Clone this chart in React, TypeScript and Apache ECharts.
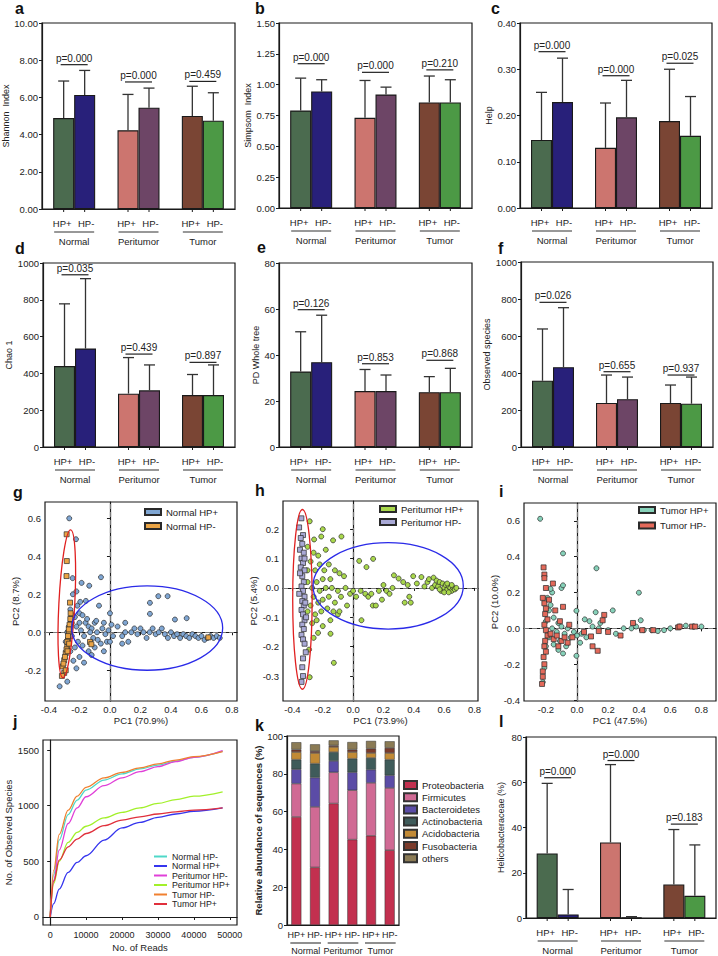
import React, { useEffect, useRef } from "react";
import * as echarts from "echarts";

const FONT = "'Liberation Sans', Arial, Helvetica, sans-serif";
const INK = "#1a1a1a";
const TXT = "#222";

// ---------- shared categories ----------
const groups = ["Normal", "Peritumor", "Tumor"];
const hpLabels = ["HP+", "HP-"];
const posColors = ["#4b6b4f", "#cc756f", "#7a4534"];
const negColors = ["#28207a", "#6d4566", "#4c9945"];

// ---------- a: Shannon ----------
const shannonPos = [4.89, 4.23, 5.0];
const shannonNeg = [6.13, 5.45, 4.75];
const shannonPosUp = [6.88, 6.16, 6.6];
const shannonNegUp = [7.45, 6.5, 6.25];
const shannonP = ["p=0.000", "p=0.000", "p=0.459"];
const shannonPLevel = [7.76, 6.83, 6.86];

// ---------- b: Simpsom ----------
const simpsonPos = [0.79, 0.731, 0.856];
const simpsonNeg = [0.945, 0.92, 0.856];
const simpsonPosUp = [1.053, 1.034, 1.07];
const simpsonNegUp = [1.04, 0.98, 1.04];
const simpsonP = ["p=0.000", "p=0.000", "p=0.210"];
const simpsonPLevel = [1.17, 1.1, 1.12];

// ---------- c: Help ----------
const helpPos = [0.147, 0.13, 0.188];
const helpNeg = [0.229, 0.196, 0.156];
const helpPosUp = [0.25, 0.227, 0.3];
const helpNegUp = [0.324, 0.276, 0.241];
const helpP = ["p=0.000", "p=0.000", "p=0.025"];
const helpPLevel = [0.338, 0.286, 0.313];

// ---------- d: Chao 1 ----------
const chaoPos = [440, 290, 282];
const chaoNeg = [535, 308, 282];
const chaoPosUp = [778, 486, 394];
const chaoNegUp = [915, 446, 446];
const chaoP = ["p=0.035", "p=0.439", "p=0.897"];
const chaoPLevel = [936, 505, 460];

// ---------- e: PD whole tree ----------
const pdPos = [32.8, 24.3, 23.8];
const pdNeg = [36.9, 24.3, 23.8];
const pdPosUp = [50.1, 33.7, 30.6];
const pdNegUp = [57.3, 31.3, 34.2];
const pdP = ["p=0.126", "p=0.853", "p=0.868"];
const pdPLevel = [59.7, 36.2, 37.7];

// ---------- f: Observed species ----------
const obsPos = [358, 238, 238];
const obsNeg = [431, 258, 234];
const obsPosUp = [638, 389, 335];
const obsNegUp = [753, 378, 378];
const obsP = ["p=0.026", "p=0.655", "p=0.937"];
const obsPLevel = [782, 407, 389];

// ---------- l: Helicobacteraceae ----------
const helicoPos = [28.5, 33.4, 14.8];
const helicoNeg = [1.6, 0.25, 9.8];
const helicoPosUp = [59.5, 67.8, 39.1];
const helicoNegUp = [12.6, 0.6, 32.3];
const helicoP = ["p=0.000", "p=0.000", "p=0.183"];
const helicoPLevel = [62, 69.6, 41.5];

// ---------- g: PCoA Normal ----------
const normalHPpos = [
  [-0.267, 0.6], [-0.223, 0.49], [-0.245, 0.285], [-0.186, 0.26], [-0.136, 0.245], [-0.059, 0.29],
  [-0.072, 0.14], [0.0, 0.1], [-0.22, 0.215], [-0.243, 0.2], [-0.214, 0.14], [-0.158, 0.165],
  [-0.195, 0.16], [-0.2, 0.1], [-0.23, 0.08], [-0.18, 0.09], [-0.16, 0.05], [-0.14, 0.03],
  [-0.12, 0.02], [-0.1, 0.05], [-0.085, 0.0], [-0.05, 0.02], [-0.03, -0.01], [-0.02, -0.05],
  [0.02, -0.02], [-0.06, -0.06], [-0.1, -0.08], [-0.14, -0.1], [-0.18, -0.07], [-0.21, -0.05],
  [-0.25, -0.02], [-0.27, 0.03], [-0.26, -0.1], [-0.24, -0.15], [-0.2, -0.13], [-0.17, -0.16],
  [-0.12, -0.12], [-0.04, -0.1], [0.0, -0.05], [-0.33, -0.285], [-0.28, -0.26], [-0.22, -0.19],
  [-0.25, 0.05], [-0.22, 0.03], [-0.19, 0.01], [-0.17, -0.02], [-0.13, 0.0], [-0.11, -0.03],
  [-0.08, -0.04], [-0.26, 0.12], [-0.28, 0.0], [-0.29, -0.05], [-0.23, -0.08], [-0.2, 0.05],
  [-0.15, 0.07], [-0.09, 0.06], [-0.04, 0.05], [0.01, 0.04], [-0.01, 0.01],
  [0.05, 0.03], [0.08, -0.02], [0.1, 0.05], [0.12, -0.05], [0.14, 0.0], [0.16, 0.02], [0.18, -0.01],
  [0.2, 0.02], [0.22, 0.0], [0.24, -0.03], [0.26, 0.0], [0.28, 0.02], [0.3, -0.01], [0.32, 0.0],
  [0.34, 0.02], [0.36, -0.01], [0.38, -0.03], [0.4, 0.0], [0.42, -0.02], [0.44, -0.01], [0.46, -0.03],
  [0.48, -0.01], [0.5, -0.02], [0.52, -0.03], [0.54, -0.01], [0.56, -0.02], [0.58, -0.03], [0.6, -0.02],
  [0.62, -0.04], [0.64, -0.03], [0.66, -0.02], [0.68, -0.03], [0.7, -0.02], [0.72, -0.03],
  [0.317, 0.19], [0.378, 0.19], [0.262, 0.155], [0.262, 0.097], [0.426, 0.067], [0.503, 0.074],
  [0.1, 0.0], [0.08, -0.06],
];
const normalHPneg = [
  [-0.284, 0.516], [-0.283, 0.375], [-0.285, 0.296], [-0.262, 0.156], [-0.25, 0.089], [-0.255, 0.054],
  [-0.262, 0.028], [-0.27, 0.0], [-0.275, -0.04], [-0.28, -0.077], [-0.29, -0.11], [-0.3, -0.147],
  [-0.31, -0.18], [-0.3, -0.214], [-0.131, -0.051], [-0.122, -0.063], [0.645, -0.027], [-0.26, 0.07],
  [-0.265, 0.04], [-0.27, 0.015], [-0.275, -0.02], [-0.28, -0.05], [-0.285, -0.09], [-0.295, -0.13],
  [-0.305, -0.165], [-0.258, 0.1], [-0.268, -0.06], [-0.29, -0.2], [-0.315, -0.23], [-0.278, -0.1],
];

// ---------- h: PCoA Peritumor ----------
const peritumorHPpos = [
  [-0.286, 0.227], [-0.257, 0.165], [-0.2, 0.2], [-0.21, 0.175], [-0.132, 0.162], [-0.077, 0.175],
  [-0.3, 0.14], [-0.26, 0.12], [-0.23, 0.11], [-0.18, 0.13], [-0.22, 0.08], [-0.25, 0.06], [-0.28, 0.09],
  [-0.19, 0.06], [-0.16, 0.08], [-0.12, 0.06], [-0.09, 0.05], [-0.06, 0.04], [-0.15, 0.03], [-0.2, 0.03],
  [-0.24, 0.02], [-0.27, 0.0], [-0.22, -0.01], [-0.18, 0.0], [-0.14, 0.0], [-0.1, -0.01], [-0.05, 0.0],
  [-0.02, -0.02], [0.0, -0.01], [-0.26, -0.03], [-0.23, -0.05], [-0.2, -0.04], [-0.16, -0.03],
  [-0.12, -0.05], [-0.08, -0.03], [-0.04, -0.06], [-0.28, -0.06], [-0.25, -0.09], [-0.21, -0.08],
  [-0.17, -0.07], [-0.13, -0.08], [-0.1, -0.09], [-0.27, -0.12], [-0.24, -0.11], [-0.2, -0.13],
  [-0.15, -0.11], [-0.09, -0.08], [-0.231, -0.153], [-0.149, -0.156], [-0.127, -0.255], [-0.29, -0.21],
  [-0.286, -0.304], [-0.26, -0.17], [-0.3, -0.08], [-0.3, 0.02], [-0.3, 0.06],
  [0.04, 0.092], [0.132, 0.099], [0.088, 0.071], [0.055, -0.11], [0.13, -0.06], [0.15, -0.06],
  [0.19, -0.04], [0.34, -0.05], [0.37, -0.03], [0.38, -0.05], [0.02, -0.03], [0.05, -0.01], [0.08, -0.02],
  [0.1, -0.03], [0.12, -0.02], [0.17, -0.01], [0.2, 0.01], [0.22, -0.01], [0.24, -0.02], [0.26, 0.0],
  [0.269, 0.043], [0.3, 0.032], [0.33, 0.02], [0.36, 0.01], [0.396, 0.04], [0.42, 0.015], [0.45, 0.037],
  [0.47, 0.005], [0.49, 0.02], [0.5, 0.03], [0.52, 0.0], [0.53, 0.035], [0.54, 0.01], [0.55, 0.025],
  [0.56, 0.005], [0.57, 0.02], [0.58, -0.01], [0.59, 0.015], [0.6, 0.0], [0.61, 0.01], [0.62, -0.005],
  [0.63, 0.005], [0.64, 0.0], [0.65, -0.01], [0.66, 0.0], [0.67, -0.005], [0.68, 0.0], [0.62, 0.015],
  [0.6, -0.015], [0.57, -0.005], [0.65, 0.01], [0.63, -0.015],
];
const peritumorHPneg = [
  [-0.341, 0.237], [-0.356, 0.206], [-0.33, 0.18], [-0.345, 0.17], [-0.335, 0.15], [-0.35, 0.13],
  [-0.325, 0.12], [-0.34, 0.1], [-0.33, 0.085], [-0.345, 0.07], [-0.32, 0.06], [-0.335, 0.04],
  [-0.325, 0.02], [-0.34, 0.005], [-0.33, -0.01], [-0.32, -0.03], [-0.335, -0.045], [-0.325, -0.06],
  [-0.34, -0.075], [-0.33, -0.09], [-0.32, -0.11], [-0.335, -0.125], [-0.325, -0.14], [-0.34, -0.16],
  [-0.33, -0.175], [-0.32, -0.19], [-0.312, -0.219], [-0.33, -0.24], [-0.335, -0.27], [-0.33, -0.3],
  [-0.34, -0.32], [-0.32, 0.1], [-0.315, -0.05], [-0.31, -0.1], [-0.35, 0.05], [-0.355, -0.02],
];

// ---------- i: PCoA Tumor ----------
const tumorHPpos = [
  [-0.237, 0.611], [-0.09, 0.418], [0.125, 0.335], [0.398, 0.199], [-0.1, 0.225], [-0.09, 0.24],
  [-0.004, 0.098], [0.12, 0.09], [0.23, 0.1], [0.41, 0.045], [-0.004, -0.153], [-0.19, 0.17],
  [-0.17, 0.13], [-0.18, 0.1], [-0.15, 0.06], [-0.12, 0.03], [-0.2, 0.04], [-0.16, 0.0], [-0.13, -0.02],
  [-0.1, 0.01], [-0.08, -0.03], [-0.06, 0.0], [-0.04, -0.05], [-0.02, -0.02], [0.0, -0.04], [0.03, -0.03],
  [0.06, -0.05], [0.08, 0.04], [0.1, 0.01], [0.14, 0.0], [-0.11, -0.07], [-0.15, -0.09], [-0.07, -0.1],
  [-0.12, -0.12], [-0.18, -0.05], [-0.2, -0.1], [-0.09, -0.14], [0.02, -0.08], [0.05, 0.05], [0.15, 0.03],
  [0.2, -0.01], [0.25, -0.03], [0.3, 0.0], [0.35, 0.0], [0.38, 0.01], [0.43, -0.01], [0.48, -0.01],
  [0.52, -0.015], [0.56, -0.01], [0.6, 0.0], [0.66, 0.01], [0.7, 0.015], [0.75, 0.01], [0.8, 0.01],
  [-0.22, -0.3], [-0.21, -0.22], [-0.16, 0.2], [-0.17, 0.22],
];
const tumorHPneg = [
  [-0.215, 0.34], [-0.21, 0.3], [-0.21, 0.28], [-0.2, 0.225], [-0.155, 0.25], [-0.09, 0.12], [-0.05, 0.02],
  [0.045, -0.02], [0.09, -0.045], [0.133, -0.125], [0.1, -0.1], [0.175, 0.075], [0.165, 0.045], [0.2, -0.02],
  [0.28, -0.04], [0.36, 0.03], [0.14, -0.015], [0.42, -0.01], [0.49, -0.01], [0.65, 0.005], [0.66, 0.01],
  [0.74, 0.01], [0.76, 0.01], [-0.22, 0.17], [-0.21, 0.14], [-0.2, 0.11], [-0.205, 0.08], [-0.19, 0.05],
  [-0.21, 0.02], [-0.2, -0.01], [-0.19, -0.04], [-0.205, -0.07], [-0.21, -0.1], [-0.2, -0.13],
  [-0.215, -0.16], [-0.21, -0.2], [-0.22, -0.24], [-0.22, -0.27], [-0.225, -0.31], [-0.17, -0.03],
  [-0.15, -0.06], [-0.13, -0.04], [-0.1, -0.07], [-0.08, -0.05], [-0.12, -0.1], [-0.06, -0.08],
  [-0.03, -0.05], [-0.14, 0.1], [-0.18, 0.16], [-0.11, 0.04],
];

// ellipses: [centerX, centerY, semiAxisX, semiAxisY, rotationDeg]
const normalEllipses = [[-0.283, 0.15, 0.052, 0.39, -3], [0.244, 0.022, 0.495, 0.222, 0]];
const peritumorEllipses = [[-0.334, -0.039, 0.064, 0.306, 0], [0.231, 0.007, 0.495, 0.147, 0]];
const ellipseColors = ["#e02020", "#2a2ae8"];

// ---------- j: rarefaction ----------
const readsX = [0, 1000, 2500, 5000, 7500, 10000, 15000, 20000, 25000, 30000, 35000, 40000, 48000];
const rareNames = ["Normal HP-", "Normal HP+", "Peritumor HP-", "Peritumor HP+", "Tumor HP-", "Tumor HP+"];
const rareNormalNeg = [0, 380, 690, 920, 1050, 1140, 1230, 1285, 1330, 1365, 1400, 1435, 1490];
const rareNormalPos = [0, 120, 250, 400, 490, 550, 690, 800, 850, 895, 925, 950, 980];
const rarePeriNeg = [0, 330, 600, 840, 980, 1080, 1180, 1250, 1305, 1350, 1395, 1435, 1495];
const rarePeriPos = [0, 300, 500, 670, 760, 815, 890, 940, 980, 1020, 1055, 1085, 1125];
const rareTumorNeg = [0, 420, 740, 960, 1085, 1165, 1250, 1300, 1340, 1375, 1410, 1440, 1485];
const rareTumorPos = [0, 320, 510, 630, 700, 750, 820, 870, 900, 925, 945, 960, 980];
const rareColors = ["#4fd8c8", "#3535ee", "#e040d8", "#a2f02a", "#f08030", "#e0303c"];

// ---------- k: phyla ----------
const kBars = ["Normal HP+", "Normal HP-", "Peritumor HP+", "Peritumor HP-", "Tumor HP+", "Tumor HP-"];
const phyla = ["Proteobacteria", "Firmicutes", "Bacteroidetes", "Actinobacteria", "Acidobacteria", "Fusobacteria", "others"];
const proteobacteria = [57.2, 30.5, 64.3, 45.2, 47.2, 39.6];
const firmicutes = [17.6, 32.0, 16.5, 26.1, 28.0, 32.9];
const bacteroidetes = [7.6, 15.5, 6.0, 9.5, 7.0, 6.7];
const actinobacteria = [5.1, 7.4, 4.7, 7.2, 6.2, 8.3];
const acidobacteria = [4.0, 5.6, 2.7, 3.5, 2.6, 3.5];
const fusobacteria = [1.3, 1.0, 0.8, 1.3, 2.3, 2.7];
const others = [3.9, 3.6, 2.7, 4.0, 4.1, 3.5];
const phylaColors = ["#c2304f", "#d06a94", "#5b4ca6", "#3f5b5a", "#c28a35", "#7b3b2b", "#8b7b55"];

// ---------- layout ----------
const HALF = 10.5;

const textStyle = (size: number) => ({ fontSize: size, color: TXT, fontFamily: FONT });

function gridOf(box: number[]) {
  const [l, t, r, b] = box;
  return { left: l, top: t, width: r - l, height: b - t, show: true, borderColor: INK, borderWidth: 1.2, backgroundColor: "transparent" };
}

function yAxisOf(gi: number, extra: any) {
  return {
    gridIndex: gi,
    type: "value",
    splitLine: { show: false },
    axisLine: { show: true, lineStyle: { color: INK, width: 1.2 } },
    axisTick: { show: true, length: 3, lineStyle: { color: INK }, ...(extra.tickValues ? { customValues: extra.tickValues } : {}) },
    axisLabel: {
      ...textStyle(9.5),
      margin: extra.labelMargin ?? 4,
      formatter: extra.formatter,
      ...(extra.tickValues ? { customValues: extra.tickValues } : {}),
    },
    min: extra.min,
    max: extra.max,
    ...(extra.interval ? { interval: extra.interval } : {}),
    name: extra.name,
    nameLocation: "middle",
    nameGap: extra.nameGap,
    nameTextStyle: { ...textStyle(extra.nameSize ?? 9.5), fontWeight: extra.nameWeight ?? "normal" },
  };
}

const errRender = (params: any, api: any) => {
  const i = api.value(0);
  const m = api.value(1);
  const up = api.value(2);
  const side = api.value(3);
  const p0 = api.coord([i, m]);
  const p1 = api.coord([i, up]);
  const x = p0[0] + side * HALF;
  return {
    type: "group",
    children: [
      { type: "line", shape: { x1: x, y1: p0[1], x2: x, y2: p1[1] }, style: { stroke: "#333", lineWidth: 1.3 } },
      { type: "line", shape: { x1: x - 5.5, y1: p1[1], x2: x + 5.5, y2: p1[1] }, style: { stroke: "#333", lineWidth: 1.3 } },
    ],
  };
};

const pRender = (texts: string[]) => (params: any, api: any) => {
  const p = api.coord([api.value(0), api.value(1)]);
  return {
    type: "group",
    children: [
      { type: "line", shape: { x1: p[0] - 13.5, y1: p[1], x2: p[0] + 13.5, y2: p[1] }, style: { stroke: "#222", lineWidth: 1.2 } },
      {
        type: "text",
        x: p[0],
        y: p[1] - 1.5,
        style: { text: texts[params.dataIndex], fontSize: 10, fontFamily: FONT, fill: TXT, align: "center", verticalAlign: "bottom" },
      },
    ],
  };
};

const catRender = (params: any, api: any) => {
  const p = api.coord([api.value(0), 0]);
  const y0 = p[1];
  const t = (s: string, x: number, y: number) => ({
    type: "text",
    x,
    y,
    style: { text: s, fontSize: 9.5, fontFamily: FONT, fill: TXT, align: "center", verticalAlign: "middle" },
  });
  return {
    type: "group",
    children: [
      { type: "line", shape: { x1: p[0] - HALF, y1: y0, x2: p[0] - HALF, y2: y0 + 3 }, style: { stroke: INK, lineWidth: 1 } },
      { type: "line", shape: { x1: p[0] + HALF, y1: y0, x2: p[0] + HALF, y2: y0 + 3 }, style: { stroke: INK, lineWidth: 1 } },
      t(hpLabels[0], p[0] - 12, y0 + 14),
      t(hpLabels[1], p[0] + 12, y0 + 14),
      { type: "line", shape: { x1: p[0] - 20, y1: y0 + 23, x2: p[0] + 20, y2: y0 + 23 }, style: { stroke: "#333", lineWidth: 1.2 } },
      t(groups[params.dataIndex], p[0], y0 + 32),
    ],
  };
};

type BarSpec = {
  id: string; box: number[]; max: number; interval: number; decimals: number; yName: string; nameGap: number;
  pos: number[]; neg: number[]; posUp: number[]; negUp: number[]; pText: string[]; pLevel: number[];
};

const barSpecs: BarSpec[] = [
  { id: "a", box: [42, 23, 235, 209], max: 10, interval: 2, decimals: 2, yName: "Shannon  Index", nameGap: 32,
    pos: shannonPos, neg: shannonNeg, posUp: shannonPosUp, negUp: shannonNegUp, pText: shannonP, pLevel: shannonPLevel },
  { id: "b", box: [279, 23, 472, 208], max: 1.5, interval: 0.25, decimals: 2, yName: "Simpsom  Index", nameGap: 26,
    pos: simpsonPos, neg: simpsonNeg, posUp: simpsonPosUp, negUp: simpsonNegUp, pText: simpsonP, pLevel: simpsonPLevel },
  { id: "c", box: [520, 23, 712, 208], max: 0.4, interval: 0.1, decimals: 2, yName: "Help", nameGap: 26,
    pos: helpPos, neg: helpNeg, posUp: helpPosUp, negUp: helpNegUp, pText: helpP, pLevel: helpPLevel },
  { id: "d", box: [43, 263, 235, 447], max: 1000, interval: 200, decimals: 0, yName: "Chao 1", nameGap: 21,
    pos: chaoPos, neg: chaoNeg, posUp: chaoPosUp, negUp: chaoNegUp, pText: chaoP, pLevel: chaoPLevel },
  { id: "e", box: [279, 263, 472, 447], max: 80, interval: 20, decimals: 0, yName: "PD Whole tree", nameGap: 18,
    pos: pdPos, neg: pdNeg, posUp: pdPosUp, negUp: pdNegUp, pText: pdP, pLevel: pdPLevel },
  { id: "f", box: [521, 262, 713, 447], max: 1000, interval: 200, decimals: 0, yName: "Observed species", nameGap: 23,
    pos: obsPos, neg: obsNeg, posUp: obsPosUp, negUp: obsNegUp, pText: obsP, pLevel: obsPLevel },
  { id: "l", box: [526, 737, 716, 918], max: 80, interval: 20, decimals: 0, yName: "Helicobacteraceae (%)", nameGap: 21,
    pos: helicoPos, neg: helicoNeg, posUp: helicoPosUp, negUp: helicoNegUp, pText: helicoP, pLevel: helicoPLevel },
];

function buildBar(o: any, s: BarSpec) {
  const gi = o.grid.length;
  o.grid.push(gridOf(s.box));
  o.xAxis.push({
    gridIndex: gi, type: "category", data: groups,
    axisLine: { lineStyle: { color: INK, width: 1.2 } }, axisTick: { show: false }, axisLabel: { show: false },
  });
  o.yAxis.push(yAxisOf(gi, {
    min: 0, max: s.max, interval: s.interval, name: s.yName, nameGap: s.nameGap, nameSize: 9,
    formatter: (v: number) => v.toFixed(s.decimals),
  }));
  const ax = { xAxisIndex: gi, yAxisIndex: gi };
  const barBase = { type: "bar", ...ax, barWidth: 21, barGap: "0%", z: 2, itemStyle: { borderColor: INK, borderWidth: 1.1 } };
  o.series.push({ ...barBase, name: s.id + " HP+", data: s.pos.map((v, i) => ({ value: v, itemStyle: { color: posColors[i] } })) });
  o.series.push({ ...barBase, name: s.id + " HP-", data: s.neg.map((v, i) => ({ value: v, itemStyle: { color: negColors[i] } })) });
  const err: number[][] = [];
  s.pos.forEach((v, i) => err.push([i, v, s.posUp[i], -1]));
  s.neg.forEach((v, i) => err.push([i, v, s.negUp[i], 1]));
  o.series.push({ type: "custom", ...ax, renderItem: errRender, data: err, z: 3, silent: true });
  o.series.push({ type: "custom", ...ax, renderItem: pRender(s.pText), data: s.pLevel.map((v, i) => [i, v]), z: 4, silent: true });
  o.series.push({ type: "custom", ...ax, renderItem: catRender, data: groups.map((g, i) => [i, 0]), z: 4, silent: true });
}

const ellRender = (params: any, api: any) => {
  const c = api.coord([api.value(0), api.value(1)]);
  const sz = api.size([api.value(2), api.value(3)]);
  return {
    type: "ellipse",
    x: c[0],
    y: c[1],
    rotation: (api.value(4) * Math.PI) / 180,
    shape: { cx: 0, cy: 0, rx: sz[0], ry: sz[1] },
    style: { fill: "none", stroke: ellipseColors[params.dataIndex], lineWidth: 1.3 },
  };
};

type ScSpec = {
  box: number[]; xMin: number; xMax: number; yMin: number; yMax: number; xTicks: number[]; yTicks: number[];
  xName: string; yName: string; yNameGap: number;
  sets: { name: string; data: number[][]; symbol: string; color: string }[];
  ellipses: number[][]; legend: { left: number; top: number; gap: number };
};

const fmt1 = (v: number) => v.toFixed(1);

const scSpecs: ScSpec[] = [
  {
    box: [45, 502, 237, 701], xMin: -0.426, xMax: 0.833, yMin: -0.362, yMax: 0.686,
    xTicks: [-0.4, -0.2, 0, 0.2, 0.4, 0.6, 0.8], yTicks: [-0.2, 0, 0.2, 0.4, 0.6],
    xName: "PC1 (70.9%)", yName: "PC2 (8.7%)", yNameGap: 18,
    sets: [
      { name: "Normal HP+", data: normalHPpos, symbol: "circle", color: "#7fa6d3" },
      { name: "Normal HP-", data: normalHPneg, symbol: "rect", color: "#eaa445" },
    ],
    ellipses: normalEllipses, legend: { left: 144, top: 507, gap: 4 },
  },
  {
    box: [283, 501, 478, 701], xMin: -0.462, xMax: 0.823, yMin: -0.385, yMax: 0.296,
    xTicks: [-0.4, -0.2, 0, 0.2, 0.4, 0.6, 0.8], yTicks: [-0.3, -0.2, -0.1, 0, 0.1, 0.2],
    xName: "PC1 (73.9%)", yName: "PC2 (5.4%)", yNameGap: 20,
    sets: [
      { name: "Peritumor HP+", data: peritumorHPpos, symbol: "circle", color: "#a9d84c" },
      { name: "Peritumor HP-", data: peritumorHPneg, symbol: "rect", color: "#a9a9d6" },
    ],
    ellipses: peritumorEllipses, legend: { left: 379, top: 504, gap: 3 },
  },
  {
    box: [524, 503, 716, 701], xMin: -0.341, xMax: 0.894, yMin: -0.405, yMax: 0.699,
    xTicks: [-0.2, 0, 0.2, 0.4, 0.6, 0.8], yTicks: [-0.4, -0.2, 0, 0.2, 0.4, 0.6],
    xName: "PC1 (47.5%)", yName: "PC2 (10.0%)", yNameGap: 20,
    sets: [
      { name: "Tumor HP+", data: tumorHPpos, symbol: "circle", color: "#86d1b9" },
      { name: "Tumor HP-", data: tumorHPneg, symbol: "rect", color: "#e4695a" },
    ],
    ellipses: [], legend: { left: 638, top: 505, gap: 5.5 },
  },
];

function buildScatter(o: any, s: ScSpec) {
  const gi = o.grid.length;
  o.grid.push(gridOf(s.box));
  o.xAxis.push({
    gridIndex: gi, type: "value", min: s.xMin, max: s.xMax, splitLine: { show: false },
    axisLine: { lineStyle: { color: INK, width: 1.2 } },
    axisTick: { show: true, length: 3, lineStyle: { color: INK }, customValues: s.xTicks },
    axisLabel: { ...textStyle(9.5), margin: 3, customValues: s.xTicks, formatter: fmt1 },
    name: s.xName, nameLocation: "middle", nameGap: 14, nameTextStyle: textStyle(9.5),
  });
  o.yAxis.push(yAxisOf(gi, {
    min: s.yMin, max: s.yMax, tickValues: s.yTicks, formatter: fmt1, name: s.yName, nameGap: s.yNameGap, nameSize: 9.5,
  }));
  const ax = { xAxisIndex: gi, yAxisIndex: gi };
  s.sets.forEach((set, k) => {
    const ser: any = {
      type: "scatter", name: set.name, ...ax, data: set.data, symbol: set.symbol, symbolSize: 5, z: 2 + k,
      itemStyle: { color: set.color, borderColor: "#2a2a2a", borderWidth: 0.7, opacity: 1 },
    };
    if (k === 0) {
      ser.markLine = {
        silent: true, symbol: "none", z: 1, animation: false, label: { show: false },
        lineStyle: { type: [5, 3], color: "#7a7a7a", width: 1.2 },
        data: [{ xAxis: 0 }, { yAxis: 0 }],
      };
    }
    o.series.push(ser);
  });
  if (s.ellipses.length) {
    o.series.push({ type: "custom", ...ax, data: s.ellipses, renderItem: ellRender, z: 6, silent: true });
  }
  o.legend.push({
    data: s.sets.map((x) => x.name), left: s.legend.left, top: s.legend.top, orient: "vertical",
    icon: "rect", itemWidth: 16, itemHeight: 6, itemGap: s.legend.gap, selectedMode: false,
    textStyle: textStyle(9.5), padding: 0,
  });
}

function buildRare(o: any) {
  const gi = o.grid.length;
  o.grid.push(gridOf([43, 740, 237, 925]));
  const xt = [0, 10000, 20000, 30000, 40000, 50000];
  o.xAxis.push({
    gridIndex: gi, type: "value", min: -2000, max: 52000, splitLine: { show: false },
    axisLine: { lineStyle: { color: INK, width: 1.2 } },
    axisTick: { show: true, length: 3, lineStyle: { color: INK }, customValues: xt },
    axisLabel: { ...textStyle(9), margin: 5, customValues: xt, formatter: (v: number) => String(Math.round(v)) },
    name: "No. of Reads", nameLocation: "middle", nameGap: 17, nameTextStyle: textStyle(9.5),
  });
  o.yAxis.push(yAxisOf(gi, {
    min: -72, max: 1590, tickValues: [0, 500, 1000, 1500], name: "No. of Observed Species", nameGap: 26, nameSize: 9.5,
    formatter: (v: number) => String(Math.round(v)),
  }));
  const curves = [rareNormalNeg, rareNormalPos, rarePeriNeg, rarePeriPos, rareTumorNeg, rareTumorPos];
  curves.forEach((ys, k) => {
    o.series.push({
      type: "line", name: "j:" + rareNames[k], xAxisIndex: gi, yAxisIndex: gi, showSymbol: false, symbol: "none",
      smooth: 0.35, smoothMonotone: "x", data: readsX.map((x, i) => [x, ys[i]]),
      lineStyle: { color: rareColors[k], width: 1.3 }, itemStyle: { color: rareColors[k] }, z: 2,
    });
  });
  o.legend.push({
    data: rareNames.map((n) => "j:" + n), formatter: (n: string) => n.slice(2),
    left: 154, top: 852, orient: "vertical", icon: "rect", itemWidth: 13, itemHeight: 2, itemGap: 0.5,
    selectedMode: false, textStyle: textStyle(8.8), padding: 0,
  });
}

const kRender = (params: any, api: any) => {
  const g = params.dataIndex;
  const a = api.coord([2 * g, 0]);
  const b = api.coord([2 * g + 1, 0]);
  const y0 = a[1];
  const t = (s: string, x: number, y: number) => ({
    type: "text", x, y,
    style: { text: s, fontSize: 9, fontFamily: FONT, fill: TXT, align: "center", verticalAlign: "middle" },
  });
  return {
    type: "group",
    children: [
      t(hpLabels[0], a[0], y0 + 10),
      t(hpLabels[1], b[0], y0 + 10),
      { type: "line", shape: { x1: a[0] - 6, y1: y0 + 18, x2: b[0] + 6, y2: y0 + 18 }, style: { stroke: "#333", lineWidth: 1.1 } },
      t(groups[g], (a[0] + b[0]) / 2, y0 + 26),
    ],
  };
};

function buildStack(o: any) {
  const gi = o.grid.length;
  o.grid.push(gridOf([287, 736, 399, 925]));
  o.xAxis.push({
    gridIndex: gi, type: "category", data: kBars,
    axisLine: { lineStyle: { color: INK, width: 1.2 } }, axisTick: { show: false }, axisLabel: { show: false },
  });
  o.yAxis.push(yAxisOf(gi, {
    min: 0, max: 100, interval: 20, name: "Relative abundance of sequences (%)", nameGap: 24, nameSize: 9.5, nameWeight: "bold",
  }));
  const values = [proteobacteria, firmicutes, bacteroidetes, actinobacteria, acidobacteria, fusobacteria, others];
  phyla.forEach((p, j) => {
    o.series.push({
      type: "bar", name: p, stack: "phyla", xAxisIndex: gi, yAxisIndex: gi, barWidth: 10, data: values[j],
      itemStyle: { color: phylaColors[j], borderColor: "#333", borderWidth: 0.5 },
    });
  });
  o.series.push({
    type: "custom", xAxisIndex: gi, yAxisIndex: gi, renderItem: kRender, data: groups.map((g, i) => [2 * i, 0]), silent: true, z: 4,
  });
  o.legend.push({
    data: phyla, left: 403, top: 780, orient: "vertical", icon: "rect", itemWidth: 13, itemHeight: 8, itemGap: 2.2,
    selectedMode: false, textStyle: textStyle(9.5), padding: 0,
  });
}

const panelLetters = ["a", "b", "c", "d", "e", "f", "g", "h", "i", "j", "k", "l"];
const letterXY = [
  [15, 8], [255, 8], [491, 8], [15, 248], [257, 247.5], [498, 248],
  [13, 492], [255, 490], [499, 491], [13, 721.5], [255, 725], [499, 721.5],
];

function buildOption() {
  const o: any = {
    animation: false,
    backgroundColor: "#ffffff",
    textStyle: { fontFamily: FONT },
    grid: [], xAxis: [], yAxis: [], series: [], legend: [],
  };
  barSpecs.forEach((s) => buildBar(o, s));
  scSpecs.forEach((s) => buildScatter(o, s));
  buildRare(o);
  buildStack(o);
  o.graphic = panelLetters.map((L, i) => ({
    type: "text", x: letterXY[i][0], y: letterXY[i][1], silent: true,
    style: { text: L, font: "bold 16px " + FONT, fill: "#111", align: "left", verticalAlign: "middle" },
  }));
  return o;
}

export default function App() {
  const ref = useRef<HTMLDivElement>(null);
  useEffect(() => {
    document.body.style.margin = "0";
    const chart = echarts.init(ref.current as HTMLDivElement, null, { renderer: "svg", width: 718, height: 956 });
    chart.setOption(buildOption());
    return () => chart.dispose();
  }, []);
  return <div ref={ref} style={{ width: 718, height: 956 }} />;
}
